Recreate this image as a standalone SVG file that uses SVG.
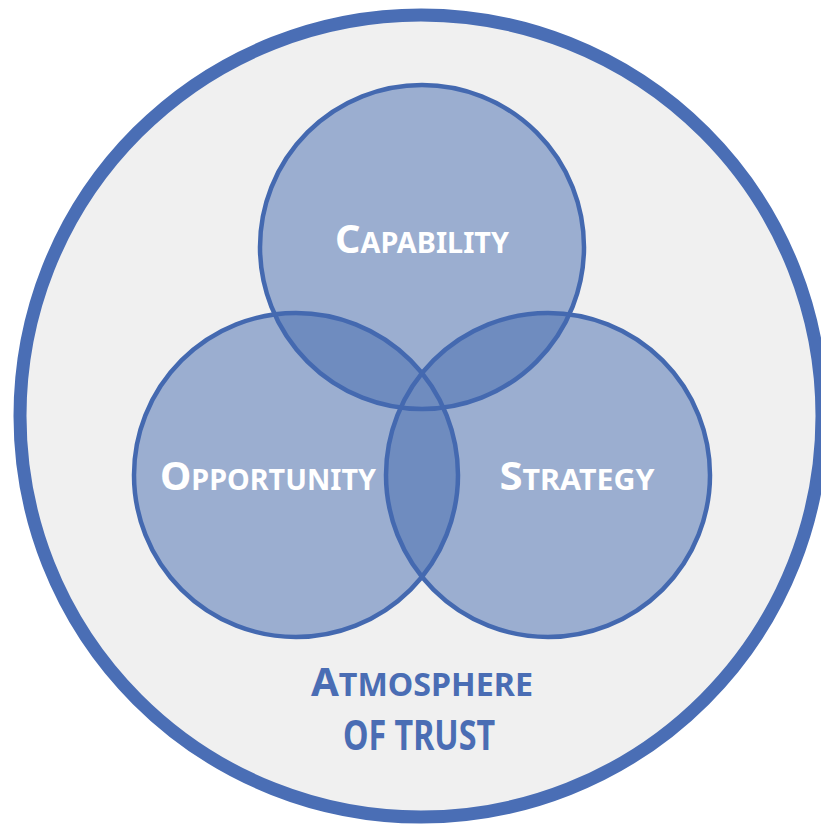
<svg xmlns="http://www.w3.org/2000/svg" width="821" height="825" viewBox="0 0 821 825">
<style>
.lbl{font-family:"Noto Sans","Liberation Sans",sans-serif;font-weight:700;fill:#ffffff;text-anchor:middle}
.atm{font-family:"Noto Sans","Liberation Sans",sans-serif;font-weight:700;fill:#4A6DB4;text-anchor:middle}
.big{font-size:40px}
.sm{font-size:29px}
.ring{fill:none;stroke:#4469B0;stroke-width:4.5}
.base{fill:#9BAED0}
.ov{fill:#6F8CBF}
</style>
<defs>
<clipPath id="cT"><circle cx="422" cy="247" r="162"/></clipPath>
<clipPath id="cL"><circle cx="296" cy="475" r="162"/></clipPath>
</defs>
<rect width="821" height="825" fill="#ffffff"/>
<g id="atmosphere">
<circle cx="421" cy="416" r="401" fill="#F0F0F0" stroke="#4A6EB5" stroke-width="13"/>
<text class="atm" x="422" y="696" textLength="222" lengthAdjust="spacingAndGlyphs"><tspan class="big">A</tspan><tspan style="font-size:32px">TMOSPHERE</tspan></text>
<text class="atm" x="419" y="750" style="font-size:42px" textLength="152" lengthAdjust="spacingAndGlyphs">OF TRUST</text>
</g>
<g id="fills">
<circle class="base" cx="422" cy="247" r="162"/>
<circle class="base" cx="296" cy="475" r="162"/>
<circle class="base" cx="548" cy="475" r="162"/>
<circle class="ov" cx="296" cy="475" r="162" clip-path="url(#cT)"/>
<circle class="ov" cx="548" cy="475" r="162" clip-path="url(#cT)"/>
<circle class="ov" cx="548" cy="475" r="162" clip-path="url(#cL)"/>
</g>
<g id="capability">
<circle class="ring" cx="422" cy="247" r="162"/>
<text class="lbl" x="422" y="253" textLength="174" lengthAdjust="spacingAndGlyphs"><tspan class="big">C</tspan><tspan class="sm">APABILITY</tspan></text>
</g>
<g id="opportunity">
<circle class="ring" cx="296" cy="475" r="162"/>
<text class="lbl" x="268" y="490" textLength="216" lengthAdjust="spacingAndGlyphs"><tspan class="big">O</tspan><tspan class="sm">PPORTUNITY</tspan></text>
</g>
<g id="strategy">
<circle class="ring" cx="548" cy="475" r="162"/>
<text class="lbl" x="577" y="490" textLength="155" lengthAdjust="spacingAndGlyphs"><tspan class="big">S</tspan><tspan class="sm">TRATEGY</tspan></text>
</g>
</svg>
